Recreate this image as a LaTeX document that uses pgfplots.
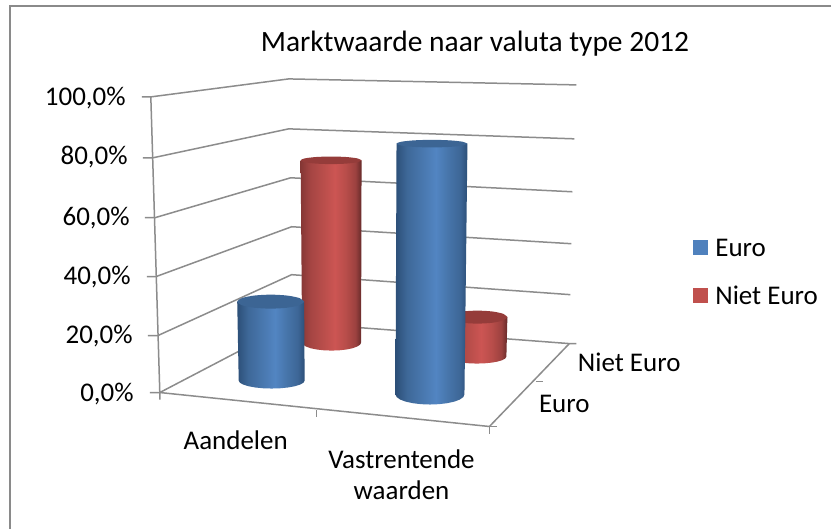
\documentclass[border=0pt]{standalone}
\usepackage{fontspec}
\setmainfont{Carlito}
\usepackage{pgfplots}
\pgfplotsset{compat=1.18}

\definecolor{gridc}{HTML}{8C8C8C}
\definecolor{framec}{HTML}{8A8A8A}
\definecolor{euro}{HTML}{4F81BD}
\definecolor{nieteuro}{HTML}{C0504D}
\definecolor{eurotop}{HTML}{3C6594}
\definecolor{nieteurotop}{HTML}{953C3A}

\definecolor{ea}{HTML}{2C4F78}
\definecolor{eb}{HTML}{3E6898}
\definecolor{ec}{HTML}{4A79B1}
\definecolor{ed}{HTML}{5285C2}
\definecolor{ee}{HTML}{4674A9}
\definecolor{ef}{HTML}{3D6696}
\definecolor{na}{HTML}{853735}
\definecolor{nb}{HTML}{A54543}
\definecolor{nc}{HTML}{BC4F4C}
\definecolor{nd}{HTML}{CC5553}
\definecolor{ne}{HTML}{B84D4A}
\definecolor{nf}{HTML}{9C413F}
\definecolor{ng}{HTML}{652A29}

% Horizontal shading of the cylinder walls; 25bp and 75bp are the path edges
\pgfdeclarehorizontalshading{eurowall}{100bp}{
  color(0bp)=(ea);
  color(25bp)=(ea);
  color(33bp)=(eb);
  color(45bp)=(ec);
  color(53bp)=(ed);
  color(62bp)=(ee);
  color(70bp)=(ef);
  color(75bp)=(ea);
  color(100bp)=(ea)}
\pgfdeclarehorizontalshading{nieteurowall}{100bp}{
  color(0bp)=(na);
  color(25bp)=(na);
  color(33bp)=(nb);
  color(45bp)=(nc);
  color(53bp)=(nd);
  color(62bp)=(ne);
  color(70bp)=(nf);
  color(75bp)=(ng);
  color(100bp)=(ng)}

\pgfplotsset{
  gridline/.style={gridc, line width=1.5pt, forget plot},
  wall/.style={draw=none, shade, shading=#1, forget plot},
  lid/.style={draw=none, fill=#1, smooth, forget plot},
}

\begin{document}
\begin{tikzpicture}
\begin{axis}[
  scale only axis, width=832pt, height=530pt,
  xmin=0, xmax=832, ymin=0, ymax=530, y dir=reverse,
  hide axis, clip=false,
  no markers,
]
% page background
\addplot[draw=none, fill=white, forget plot] coordinates {(0,0) (832,0) (832,530) (0,530)} --cycle;

% chart frame: top and left edge only
\addplot[framec, line width=2pt, forget plot] coordinates {(832,6.5) (10,6.5) (10,530)};

% left wall grid lines with their outward ticks, 100% down to 20%
\addplot[gridline] coordinates {(142,97) (151,97) (289,79) (577,85)};
\addplot[gridline] coordinates {(143,158) (153,158) (289,129) (575,139)};
\addplot[gridline] coordinates {(145,218) (155,218) (291,178) (573,192)};
\addplot[gridline] coordinates {(147,277) (156,277) (292,227) (572,244)};
\addplot[gridline] coordinates {(148,336) (158,336) (292,275) (571,295)};
% floor outline
\addplot[gridline] coordinates {(150,393) (160,393) (294,323) (570,344) (577,344)};
\addplot[gridline] coordinates {(160,393) (490,427) (570,344)};
% vertical axis
\addplot[gridline] coordinates {(151,97) (160,393) (160,400)};
% floor ticks
\addplot[gridline] coordinates {(317,410.5) (317,417)};
\addplot[gridline] coordinates {(490,427) (490,435)};
\addplot[gridline] coordinates {(490,427) (498,427)};
\addplot[gridline] coordinates {(537,382) (544,382)};

% Niet Euro, Aandelen
\addplot[wall=nieteurowall] coordinates {(301,160.5) (362,160.5) (361.5,343) (360.5,345.07) (357.5,347) (352.9,348.66) (346.75,349.93) (339.6,350.73) (332,351) (324.4,350.73) (317.25,349.93) (311.1,348.66) (306.5,347) (303.5,345.07) (302.5,343)} --cycle;
\addplot[lid=nieteurotop] coordinates {(362,160.5) (357.9,162.4) (346.75,163.79) (331.5,164.3) (316.25,163.79) (305.1,162.4) (301,160.5) (305.1,158.6) (316.25,157.21) (331.5,156.7) (346.75,157.21) (357.9,158.6) (362,160.5)};

% Niet Euro, Vastrentende waarden
\addplot[wall=nieteurowall] coordinates {(448,317.5) (508,317.5) (507,357) (506,358.81) (503,360.5) (498.4,361.95) (492.25,363.06) (485.1,363.76) (477.5,364) (469.9,363.76) (462.75,363.06) (456.6,361.95) (452,360.5) (449,358.81) (448,357)} --cycle;
\addplot[lid=nieteurotop] coordinates {(508,317.5) (504,320.75) (493,323.13) (478,324) (463,323.13) (452,320.75) (448,317.5) (452,314.25) (463,311.87) (478,311) (493,311.87) (504,314.25) (508,317.5)};

% Euro, Aandelen
\addplot[wall=eurowall] coordinates {(237.5,302) (304.5,302) (305,381) (303.9,383.07) (300.6,385) (295.3,386.66) (288.5,387.93) (280.5,388.73) (272,389) (263.5,388.73) (255.5,387.93) (248.7,386.66) (243.4,385) (240.1,383.07) (239,381)} --cycle;
\addplot[lid=eurotop] coordinates {(304.5,302) (300,305.5) (287.75,308.06) (271,309) (254.25,308.06) (242,305.5) (237.5,302) (242,298.5) (254.25,295.94) (271,295) (287.75,295.94) (300,298.5) (304.5,302)};

% Euro, Vastrentende waarden
\addplot[wall=eurowall] coordinates {(397,143.8) (468,143.8) (465,395) (463.8,397.59) (460.4,400) (454.9,402.07) (447.75,403.66) (439.4,404.66) (430.5,405) (421.6,404.66) (413.25,403.66) (406.1,402.07) (400.6,400) (397.2,397.59) (396,395)} --cycle;
\addplot[lid=eurotop] coordinates {(468,143.8) (463.2,145.7) (450.25,147.09) (432.5,147.6) (414.75,147.09) (401.8,145.7) (397,143.8) (401.8,141.9) (414.75,140.51) (432.5,140) (450.25,140.51) (463.2,141.9) (468,143.8)};

% legend swatches
\addplot[draw=none, fill=euro, forget plot] coordinates {(694,240) (709,240) (709,255) (694,255)} --cycle;
\addplot[draw=none, fill=nieteuro, forget plot] coordinates {(694,288) (709,288) (709,303) (694,303)} --cycle;

% title
\node[font=\fontsize{29.5}{34}\selectfont, anchor=center] at (axis cs:475.5,44) {Marktwaarde naar valuta type 2012};

% value axis labels
\begin{scope}[every node/.style={font=\fontsize{27}{32}\selectfont, anchor=east, inner sep=0pt}]
\node at (axis cs:126,98) {100,0\%};
\node at (axis cs:128,157) {80,0\%};
\node at (axis cs:130,218) {60,0\%};
\node at (axis cs:131,277) {40,0\%};
\node at (axis cs:133,336) {20,0\%};
\node at (axis cs:134,394) {0,0\%};
\end{scope}

% category and series labels, legend text
\begin{scope}[every node/.style={font=\fontsize{27}{32}\selectfont, anchor=center, inner sep=0pt}]
\node at (axis cs:236,441) {Aandelen};
\node at (axis cs:402,460) {Vastrentende};
\node at (axis cs:402,491) {waarden};
\node at (axis cs:630,363) {Niet Euro};
\node at (axis cs:565,404) {Euro};
\node[anchor=west] at (axis cs:716,248) {Euro};
\node[anchor=west] at (axis cs:716,296) {Niet Euro};
\end{scope}
\end{axis}
\end{tikzpicture}
\end{document}
